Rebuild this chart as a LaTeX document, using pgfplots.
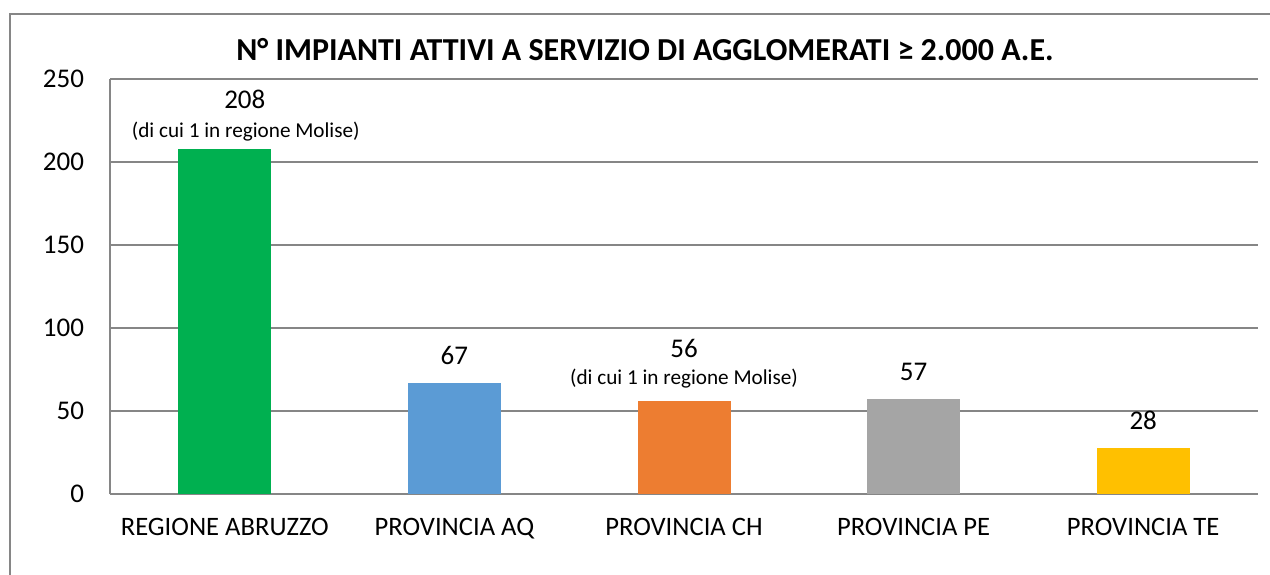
\documentclass[border=0pt]{standalone}
\usepackage{pgfplots}
\pgfplotsset{compat=1.18}
\usepackage{fontspec}
\setmainfont{Carlito}
\definecolor{cgreen}{HTML}{00B050}
\definecolor{cblue}{HTML}{5B9BD5}
\definecolor{corange}{HTML}{ED7D31}
\definecolor{cgray}{HTML}{A5A5A5}
\definecolor{cyellow}{HTML}{FFC000}
\definecolor{gridgray}{HTML}{868686}
\begin{document}
\begin{tikzpicture}
\useasboundingbox (0,0) rectangle (635pt,287pt);
\draw[gridgray, line width=0.7pt] (5pt,-2pt) -- (5pt,280pt) -- (637pt,280pt);
\begin{axis}[
  at={(55pt,40pt)}, anchor=south west, scale only axis,
  width=574pt, height=207.5pt,
  xmin=-0.5, xmax=4.5, ymin=0, ymax=250,
  ytick={0,50,...,250},
  xtick={0,1,2,3,4},
  xticklabels={REGIONE ABRUZZO, PROVINCIA AQ, PROVINCIA CH, PROVINCIA PE, PROVINCIA TE},
  axis x line=bottom, axis y line=left,
  x axis line style={gridgray, -, line width=1pt},
  y axis line style={gridgray, -, line width=0.7pt},
  ymajorgrids, grid style={gridgray, line width=0.65pt},
  major tick length=0pt,
  ybar, bar width=46.5pt, bar shift=0pt,
  /pgf/number format/assume math mode=true,
  yticklabel style={font=\fontsize{13.5}{15}\selectfont, xshift=-9.5pt},
  xticklabel style={font=\fontsize{13.3}{15}\selectfont, yshift=-8.5pt},
  title={N° IMPIANTI ATTIVI A SERVIZIO DI AGGLOMERATI ≥ 2.000 A.E.},
  title style={at={(0.466,1)}, anchor=center, yshift=8.5pt, font=\bfseries\fontsize{16}{18}\selectfont},
  nodes near coords,
  nodes near coords style={font=\fontsize{13.5}{15}\selectfont, anchor=center, yshift=13.5pt, black},
  clip=false,
]
\addplot[fill=cgreen, draw=none, nodes near coords style={yshift=11pt, xshift=10pt}] coordinates {(0,208)};
\addplot[fill=cblue, draw=none] coordinates {(1,67)};
\addplot[fill=corange, draw=none, nodes near coords style={yshift=13pt}] coordinates {(2,56)};
\addplot[fill=cgray, draw=none] coordinates {(3,57)};
\addplot[fill=cyellow, draw=none] coordinates {(4,28)};
\node[font=\fontsize{10.6}{13}\selectfont, yshift=8.5pt, xshift=10.5pt] at (axis cs:0,208) {(di cui 1 in regione Molise)};
\node[font=\fontsize{10.6}{13}\selectfont, yshift=11pt] at (axis cs:2,56) {(di cui 1 in regione Molise)};
\end{axis}
\end{tikzpicture}
\end{document}
